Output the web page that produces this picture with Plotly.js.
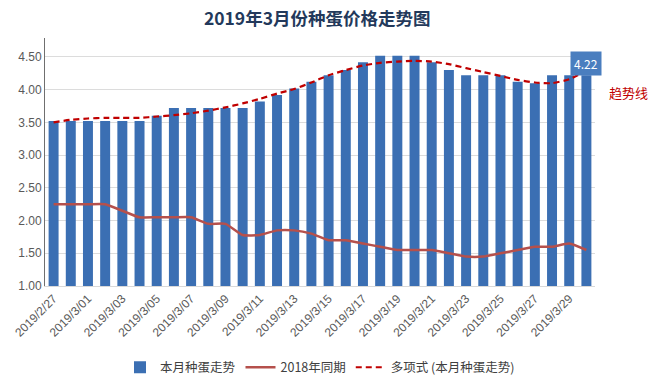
<!DOCTYPE html>
<html>
<head>
<meta charset="utf-8">
<script src="https://cdn.plot.ly/plotly-3.0.1.min.js"></script>
<style>html,body{margin:0;padding:0;background:#fff;}#chart{width:650px;height:389px;}</style>
</head>
<body>
<div id="chart"></div>
<script>
const dates = ["2019/2/27","2019/2/28","2019/3/01","2019/3/02","2019/3/03","2019/3/04","2019/3/05","2019/3/06",
  "2019/3/07","2019/3/08","2019/3/09","2019/3/10","2019/3/11","2019/3/12","2019/3/13","2019/3/14",
  "2019/3/15","2019/3/16","2019/3/17","2019/3/18","2019/3/19","2019/3/20","2019/3/21","2019/3/22",
  "2019/3/23","2019/3/24","2019/3/25","2019/3/26","2019/3/27","2019/3/28","2019/3/29","2019/3/30"];
const thisMonth = [3.52,3.52,3.52,3.52,3.52,3.52,3.60,3.72,3.72,3.72,3.72,3.72,3.82,3.92,4.02,4.12,
  4.22,4.30,4.42,4.52,4.52,4.52,4.42,4.30,4.22,4.22,4.22,4.12,4.10,4.22,4.22,4.22];
const lastYear = [2.25,2.25,2.25,2.25,2.15,2.05,2.05,2.05,2.05,1.95,1.95,1.78,1.78,1.85,1.85,1.80,
  1.70,1.70,1.65,1.60,1.55,1.55,1.55,1.50,1.45,1.45,1.50,1.55,1.60,1.60,1.65,1.55];
const trend = [3.50,3.54,3.56,3.57,3.57,3.57,3.59,3.61,3.64,3.68,3.73,3.79,3.86,3.94,4.01,4.11,
  4.22,4.30,4.37,4.41,4.43,4.44,4.43,4.39,4.33,4.27,4.21,4.15,4.11,4.10,4.16,4.29];
const tickDates = dates.filter((d,i)=>i%2===0);
const seriesNames = ["本月种蛋走势","2018年同期","多项式 (本月种蛋走势)"];

const font = "'Noto Sans CJK SC', 'Liberation Sans', sans-serif";

const traces = [
  {type:"bar", x:dates, y:thisMonth, name:seriesNames[0],
   marker:{color:"#3b6fb3"}, hoverinfo:"skip"},
  {type:"scatter", mode:"lines", x:dates, y:lastYear, name:seriesNames[1],
   line:{color:"#b5504c", width:2.5, shape:"spline", smoothing:0.5}},
  {type:"scatter", mode:"lines", x:dates, y:trend, name:seriesNames[2],
   line:{color:"#c00000", width:2.2, dash:"6px,4px", shape:"spline", smoothing:0.6}}
];

const last = thisMonth.length-1;
const layout = {
  width:650, height:389,
  margin:{l:45, r:55, t:38, b:103, autoexpand:false},
  paper_bgcolor:"#fff", plot_bgcolor:"#fff",
  font:{family:font, color:"#595959", size:11},
  title:{text:"<b>2019年3月份种蛋价格走势图</b>", x:0.488, xanchor:"center", y:0.952, yanchor:"middle",
         font:{family:font, size:17.5, color:"#23395b"}},
  bargap:0.42,
  showlegend:true,
  legend:{orientation:"h", x:0.5, xanchor:"center", yref:"container", y:0.055, yanchor:"middle",
          font:{family:font, size:12.5, color:"#404040"}, traceorder:"normal"},
  xaxis:{type:"category", categoryorder:"array", categoryarray:dates,
         tickmode:"array", tickvals:tickDates, ticktext:tickDates, tickangle:-45,
         tickfont:{family:"'Liberation Sans', sans-serif", size:12, color:"#595959"},
         showgrid:false, showline:true, linecolor:"#d9d9d9", linewidth:1, ticks:"",
         automargin:false, range:[-0.5, dates.length-0.5]},
  yaxis:{range:[1,4.79], tickvals:[1,1.5,2,2.5,3,3.5,4,4.5], tickformat:".2f",
         tickfont:{family:"'Liberation Sans', sans-serif", size:12, color:"#595959"},
         showgrid:true, gridcolor:"#dcdcdc", gridwidth:1, automargin:false,
         showline:true, linecolor:"#6f6f6f", linewidth:1, zeroline:false, ticks:""},
  annotations:[
    {x:dates[last], y:thisMonth[last], xref:"x", yref:"y", text:String(thisMonth[last].toFixed(2)),
     showarrow:false, yshift:12, bgcolor:"#4a7ebf", borderpad:3,
     font:{family:font, size:12, color:"#ffffff"}},
    {x:1.06, xref:"paper", y:3.95, yref:"y", text:"趋势线", showarrow:false,
     xanchor:"center", font:{family:font, size:13, color:"#c00000"}}
  ]
};

Plotly.newPlot("chart", traces, layout, {displayModeBar:false, staticPlot:true});
</script>
</body>
</html>
